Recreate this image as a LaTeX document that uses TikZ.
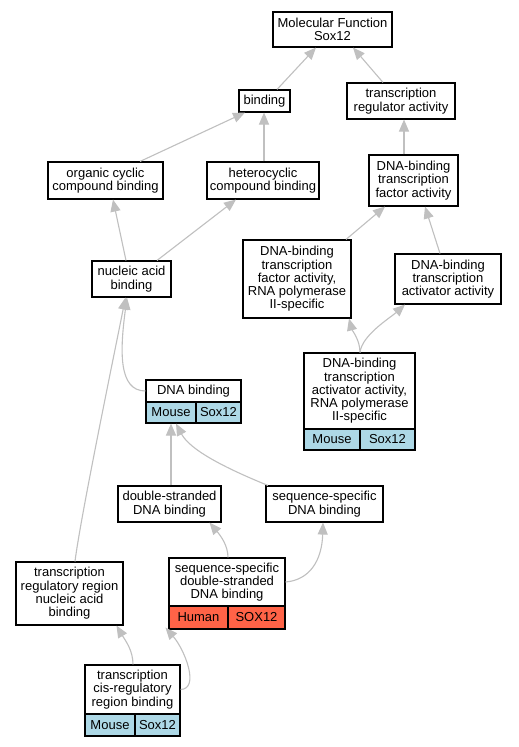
\documentclass[tikz,border=0pt]{standalone}
\usepackage{fontspec}
\setmainfont{Liberation Sans}
\usetikzlibrary{arrows.meta}
\definecolor{mouseblue}{HTML}{ADD8E6}
\definecolor{humanred}{HTML}{FF6347}
\definecolor{edgegray}{HTML}{C0C0C0}
\newcommand{\boxfont}{\fontsize{13}{13.3}\selectfont}
\begin{document}
\begin{tikzpicture}[x=1pt,y=-1pt,
  box/.style={draw=black, line width=1.1pt, inner sep=0pt, align=center, font=\boxfont, fill=white},
  cell/.style={box},
  edge/.style={draw=edgegray, line width=1.1pt, -{Triangle[length=12pt,width=10pt]}}]
\useasboundingbox (0,0) rectangle (519,747);
\fill[white] (0,0) rectangle (519,747);
% nodes
\node[box, minimum width=119, minimum height=35] (mf) at (332.5,29.5) {Molecular Function\\Sox12};
\node[box, minimum width=51, minimum height=22] (bind) at (264.5,101) {binding};
\node[box, minimum width=108, minimum height=36] (tra) at (401,101) {transcription\\regulator activity};
\node[box, minimum width=115, minimum height=37] (occ) at (105.5,180.5) {organic cyclic\\compound binding};
\node[box, minimum width=112, minimum height=37] (hcc) at (263,180.5) {heterocyclic\\compound binding};
\node[box, minimum width=89, minimum height=51] (dbtf) at (413.5,180.5) {DNA-binding\\transcription\\factor activity};
\node[box, minimum width=108, minimum height=78] (tfrna) at (297,279) {DNA-binding\\transcription\\factor activity,\\RNA polymerase\\II-specific};
\node[box, minimum width=106, minimum height=50] (act) at (448,279) {DNA-binding\\transcription\\activator activity};
\node[box, minimum width=79, minimum height=36] (nab) at (131.5,279) {nucleic acid\\binding};
% DNA binding
\node[box, minimum width=95, minimum height=22] (dnab) at (193.5,391) {DNA binding};
\node[cell, fill=mouseblue, minimum width=50, minimum height=21] (dnabm) at (171,412.5) {Mouse};
\node[cell, fill=mouseblue, minimum width=45, minimum height=21] (dnabs) at (218.5,412.5) {Sox12};
% activator RNA pol II
\node[box, minimum width=111, minimum height=76] (actrna) at (359.5,391) {DNA-binding\\transcription\\activator activity,\\RNA polymerase\\II-specific};
\node[cell, fill=mouseblue, minimum width=56, minimum height=21] (actrnam) at (332,439.5) {Mouse};
\node[cell, fill=mouseblue, minimum width=55, minimum height=21] (actrnas) at (387.5,439.5) {Sox12};
\node[box, minimum width=103, minimum height=36] (dsb) at (169.5,504) {double-stranded\\DNA binding};
\node[box, minimum width=117, minimum height=36] (ssb) at (324.5,504) {sequence-specific\\DNA binding};
\node[box, minimum width=107, minimum height=63] (trr) at (69.5,593.5) {transcription\\regulatory region\\nucleic acid\\binding};
% seq-spec ds
\node[box, minimum width=116, minimum height=48] (ssds) at (227,582) {sequence-specific\\double-stranded\\DNA binding};
\node[cell, fill=humanred, minimum width=59, minimum height=23] (ssdsh) at (198.5,617.5) {Human};
\node[cell, fill=humanred, minimum width=57, minimum height=23] (ssdss) at (256.5,617.5) {SOX12};
% cis
\node[box, minimum width=95, minimum height=49] (cis) at (132.5,689.5) {transcription\\cis-regulatory\\region binding};
\node[cell, fill=mouseblue, minimum width=50, minimum height=22] (cism) at (110,725) {Mouse};
\node[cell, fill=mouseblue, minimum width=45, minimum height=22] (ciss) at (157.5,725) {Sox12};
% edges
\draw[edge] ([xshift=12.5pt]bind.north) -- ([xshift=-16.5pt]mf.south);
\draw[edge] ([xshift=-18pt]tra.north) -- ([xshift=20.5pt]mf.south);
\draw[edge] ([xshift=34.5pt]occ.north) -- ([xshift=-19.5pt]bind.south);
\draw[edge] ([xshift=1pt]hcc.north) -- ([xshift=-0.5pt]bind.south);
\draw[edge] ([xshift=-9.5pt]dbtf.north) -- ([xshift=3pt]tra.south);
\draw[edge] ([xshift=-5.5pt]nab.north) -- ([xshift=7.5pt]occ.south);
\draw[edge] ([xshift=25.5pt]nab.north) -- ([xshift=-27pt]hcc.south);
\draw[edge] ([xshift=49pt]tfrna.north) -- ([xshift=-28.5pt]dbtf.south);
\draw[edge] ([xshift=-8pt]act.north) -- ([xshift=11.5pt]dbtf.south);
\draw[edge] ([xshift=0.5pt]actrna.north) .. controls (360,340) and (352,330) .. ([xshift=52pt]tfrna.south);
\draw[edge] ([xshift=0.5pt]actrna.north) .. controls (362,335) and (390,318) .. ([xshift=-43pt]act.south);
\draw[edge] (dnab.west) .. controls (118,391) and (120,350) .. ([xshift=-4.5pt]nab.south);
\draw[edge] ([xshift=5.5pt]trr.north) .. controls (80,520) and (115,350) .. ([xshift=-6pt]nab.south);
\draw[edge] ([xshift=1.5pt]dsb.north) -- (dnabm.south);
\draw[edge] ([xshift=-56.5pt]ssb.north) .. controls (225,468) and (190,450) .. ([xshift=5pt]dnabm.south);
\draw[edge] ([xshift=1pt]ssds.north) .. controls (228,545) and (220,535) .. ([xshift=40pt]dsb.south);
\draw[edge] (ssds.east) .. controls (310,580) and (322,560) .. ([xshift=-1.5pt]ssb.south);
\draw[edge] ([xshift=0.5pt]cis.north) .. controls (133,650) and (125,640) .. ([xshift=47pt]trr.south);
\draw[edge] (cis.east) .. controls (200,689) and (185,650) .. ([shift={(-3pt,2pt)}]ssdsh.south west);
\end{tikzpicture}
\end{document}
